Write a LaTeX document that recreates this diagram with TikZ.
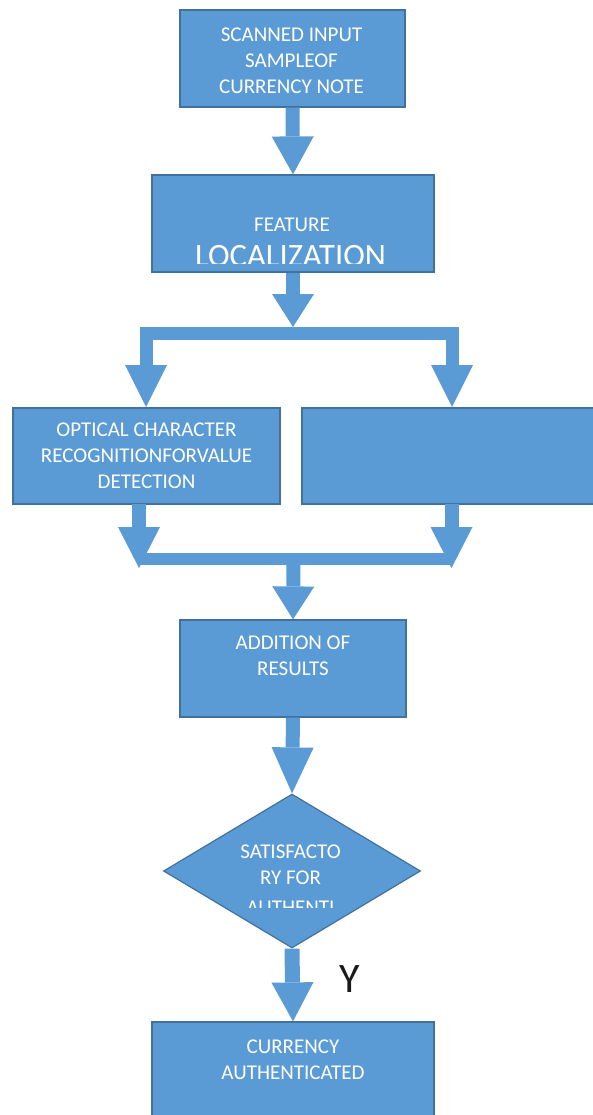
\documentclass[tikz,border=0pt]{standalone}
\usepackage{fontspec}
\setmainfont{Carlito}
\usetikzlibrary{arrows.meta,shapes.geometric}
\definecolor{boxblue}{HTML}{5B9BD5}
\definecolor{boxedge}{HTML}{41719C}
\definecolor{ytext}{HTML}{1A1A1A}
\begin{document}
\begin{tikzpicture}[x=1pt,y=-1pt,
  box/.style={draw=boxedge, fill=boxblue, line width=1.2pt, inner sep=0pt, rectangle},
  txt/.style={text=white, font=\fontsize{21}{26}\selectfont, align=center, inner sep=0pt, anchor=north},
  fat/.style={draw=boxblue, line width=14pt, line join=miter},
  blocktip/.style={-{Triangle[width=42pt,length=#1,line width=0pt]}},
  twotip/.style={{Triangle[width=42pt,length=#1,line width=0pt]}-{Triangle[width=42pt,length=#1,line width=0pt]}}
]
\useasboundingbox (0,0) rectangle (592,1115);

% boxes
\node[box, minimum width=225pt, minimum height=97pt] (b1) at (292.5,58.5) {};
\node[box, minimum width=282pt, minimum height=97pt] (b2) at (293,223.5) {};
\node[box, minimum width=267pt, minimum height=96pt] (lb) at (146.5,456) {};
\node[box, minimum width=320pt, minimum height=96pt] (rb) at (462,456) {};
\node[box, minimum width=226pt, minimum height=97pt] (b3) at (293,668.5) {};
\node[box, diamond, minimum width=257pt, minimum height=154pt] (dm) at (292,871) {};
\node[box, minimum width=282pt, minimum height=108pt] (b4) at (293,1076) {};

% texts
\node[txt] (t1) at (291.5,28) {SCANNED INPUT\\SAMPLEOF\\CURRENCY NOTE};
\node[txt] (t2) at (292,218) {FEATURE};
\begin{scope}
  \clip (152,175) rectangle (434,263);
  \node[txt, font=\fontsize{32.6}{36}\selectfont] (t2b) at (290.5,245) {LOCALIZATION};
\end{scope}
\node[txt] (t3) at (146.5,423) {OPTICAL CHARACTER\\RECOGNITIONFORVALUE\\DETECTION};
\node[txt] (t4) at (293,636) {ADDITION OF\\RESULTS};
\node[txt] (t5) at (290.5,845) {SATISFACTO\\RY FOR};
\begin{scope}
  \clip (200,890) rectangle (380,907);
  \node[txt] (t5b) at (290.5,901) {AUTHENTI};
\end{scope}
\node[txt] (t6) at (293,1040) {CURRENCY\\AUTHENTICATED};
\node[inner sep=0pt, text=ytext, font=\fontsize{42}{42}\selectfont] (ylab) at (349.5,979) {Y};

% connector coordinates
\coordinate (bartop) at (293,327);
\coordinate (ltop) at (146,407);
\coordinate (rtop) at (452,407);
\coordinate (lbot) at (139,504);
\coordinate (rbot) at (451.5,504);
\coordinate (ltip) at (139,568);
\coordinate (rtip) at (451.5,568);
\coordinate (mid) at (293.5,559);

% block arrows
\draw[fat, blocktip=38pt] (b1.south) -- (b2.north);
\draw[fat, blocktip=33pt] (b2.south) -- (bartop);
\draw[fat, line width=13pt, twotip=42pt] (ltop) -- (146,333.5) -- (452,333.5) -- (rtop);
\draw[fat, blocktip=41pt] (lbot) -- (ltip);
\draw[fat, blocktip=41pt] (rbot) -- (rtip);
\draw[fat, line width=12pt] (ltip |- mid) -- (rtip |- mid);
\draw[fat, blocktip=33pt] (mid) -- (b3.north);
\draw[fat, blocktip=46pt] (b3.south) -- (dm.north);
\draw[fat, line width=15pt, blocktip=39pt] (dm.south) -- (b4.north);
\end{tikzpicture}
\end{document}
